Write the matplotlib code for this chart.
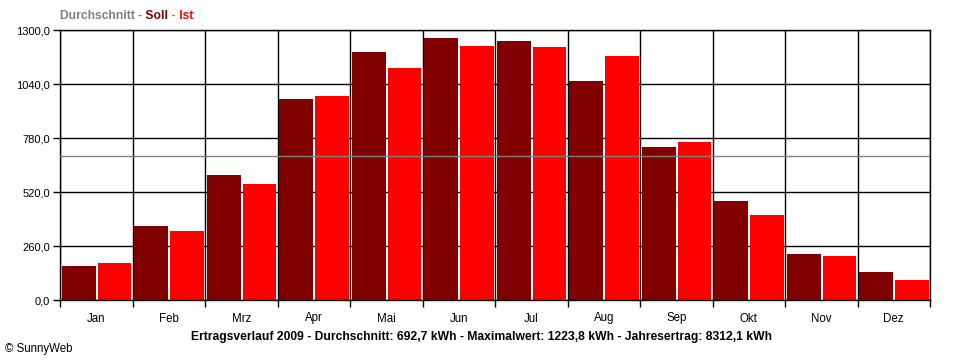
import matplotlib
matplotlib.use("Agg")
import matplotlib.pyplot as plt
import numpy as np

plt.rcParams['font.family'] = ['Liberation Sans', 'DejaVu Sans']

months = ['Jan', 'Feb', 'Mrz', 'Apr', 'Mai', 'Jun', 'Jul', 'Aug', 'Sep', 'Okt', 'Nov', 'Dez']
soll = [164, 356, 602, 968, 1194, 1261, 1247, 1054, 737, 477, 221, 135]
ist = [178, 332, 558, 982, 1117, 1223.8, 1219, 1175, 761, 409, 212, 96]
durchschnitt = 692.7
y_ticks = [0, 260, 520, 780, 1040, 1300]

fig = plt.figure(figsize=(9.6, 3.6), dpi=100)
ax = fig.add_axes([60 / 960, 1 - 300 / 360, 870 / 960, 270 / 360])

x = np.arange(len(months))
ax.bar(x + 0.025, soll, width=0.47, align='edge', color='#800000', zorder=2)
ax.bar(x + 0.52, ist, width=0.465, align='edge', color='#ff0000', zorder=2)
ax.axhline(durchschnitt, color='#808080', lw=1.0, zorder=3)

ax.set_xlim(0, 12)
ax.set_ylim(0, 1300)
ax.set_yticks(y_ticks)
ax.set_yticklabels([f"{v:.1f}".replace('.', ',') for v in y_ticks], fontsize=8)
# major ticks on month boundaries, month names on minor ticks in the middle
ax.set_xticks(np.arange(13))
ax.set_xticklabels([])
ax.set_xticks(x + 0.5, minor=True)
ax.set_xticklabels(months, minor=True, fontsize=8.3)
ax.tick_params(axis='x', which='minor', length=0, pad=9)
ax.tick_params(axis='both', which='major', length=5, width=1, color='black', pad=2)
ax.grid(True, which='major', color='black', lw=1.0, zorder=1)
ax.set_axisbelow(True)
for s in ax.spines.values():
    s.set_color('black')
    s.set_linewidth(1.0)

# title with coloured parts, each one chained after the previous
parts = [("Durchschnitt -", '#808080'), (" Soll", '#800000'),
         (" -", '#808080'), (" Ist", '#ff0000')]
prev = fig.text(60 / 960, 1 - 16 / 360, parts[0][0], color=parts[0][1], fontsize=8.7,
                fontweight='bold', ha='left', va='center')
for txt, col in parts[1:]:
    prev = ax.annotate(txt, xy=(1, 0.5), xycoords=prev, ha='left', va='center',
                       color=col, fontsize=8.7, fontweight='bold', annotation_clip=False)

fig.text(481 / 960, 1 - 337 / 360,
         "Ertragsverlauf 2009 - Durchschnitt: 692,7 kWh - Maximalwert: 1223,8 kWh - Jahresertrag: 8312,1 kWh",
         fontsize=8.7, fontweight='bold', ha='center', va='center')
fig.text(5 / 960, 1 - 349 / 360, "\u00a9 SunnyWeb", fontsize=8.3, ha='left', va='center')

fig.savefig("out.png", dpi=100)
